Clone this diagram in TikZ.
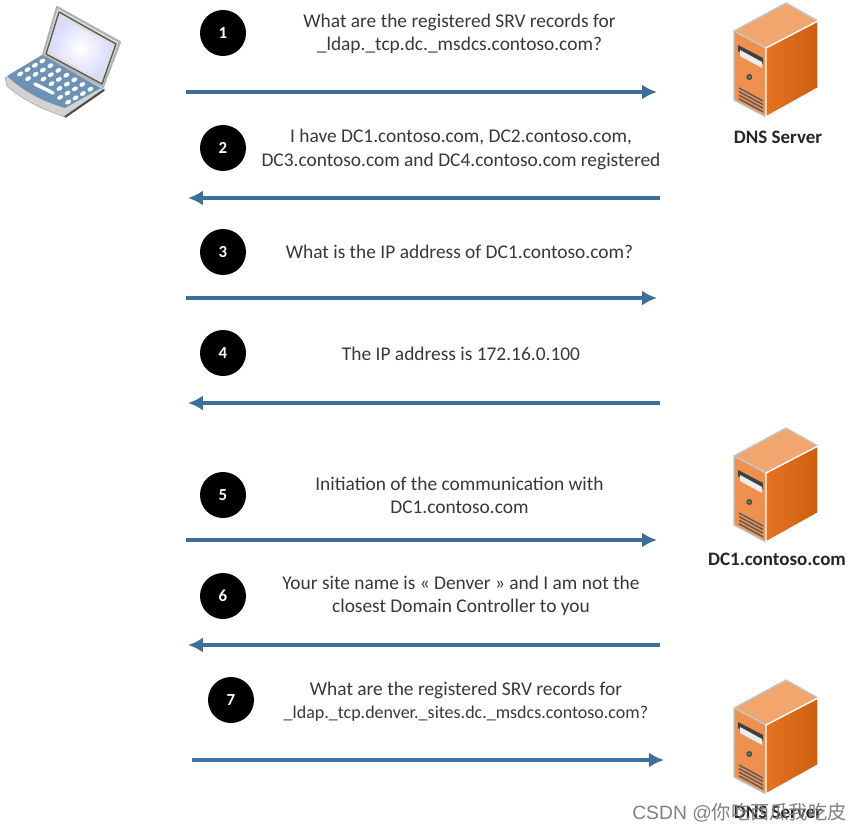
\documentclass[tikz,border=0pt]{standalone}
\usepackage{fontspec}
\setmainfont{Carlito}
\newfontfamily\cjk{Noto Sans CJK SC}
\newfontfamily\marksf{Liberation Sans}
\definecolor{arrowblue}{RGB}{62,110,155}
\definecolor{srvfront}{RGB}{238,145,80}
\definecolor{srvside}{RGB}{205,95,15}
\definecolor{srvsidelt}{RGB}{228,115,35}
\definecolor{srvtop}{RGB}{243,165,110}
\definecolor{srvedge}{RGB}{190,200,200}
\usetikzlibrary{arrows.meta}
\tikzset{
	msg/.style={font=\fontsize{13.8}{16.5}\selectfont,text=black!78,align=center},
	num/.style={circle,fill=black,text=white,minimum size=46*0.025cm,inner sep=0pt,font=\bfseries\fontsize{12}{14}\selectfont},
	lbl/.style={font=\bfseries\fontsize{13.5}{15}\selectfont,text=black!85},
	flow/.style={draw=arrowblue,line width=2.2pt,-{Latex[length=10.5pt,width=10.5pt]}},
	pics/server/.style={code={
		\draw[srvedge,line width=1pt,fill=srvtop] (0,0)--(52,-28)--(84,-10)--(32,17)--cycle;
		\draw[srvedge,line width=1pt,fill=srvfront] (0,0)--(32,17)--(32,86)--(0,69)--cycle;
		\draw[white,line width=1pt,left color=srvsidelt,right color=srvside] (32,17)--(84,-10)--(84,57)--(32,86)--cycle;
		\fill[black!75] (4,14)--(29,27)--(29,33)--(4,20)--cycle;
		\fill[white!85!gray] (6,19)--(28,31)--(28,37)--(6,25)--cycle;
		\fill[black!70] (15.3,46) circle (3);
		\fill[green!50!gray] (15.3,46) circle (1.2);
		\foreach \k in {0,1,2,3}{\draw[black!65,line width=1pt] (5,57+\k*3.6)--(29,70+\k*3.6);}
	}},
	pics/laptop/.style={code={
		% lid
		\draw[gray!60,line width=1.5pt,fill=gray!25] (43,55)--(57,7)--(120,42)--(103,87)--cycle;
		\draw[black!65,line width=1pt] (46,54)--(59,12)--(116,44)--(102,84)--cycle;
		\shade[inner color=white,outer color=blue!15] (50,52)--(60,17)--(112,45)--(99,80)--cycle;
		% base
		\draw[gray!70,fill=gray!35] (5,77)--(7,86) .. controls (25,102) and (45,110) .. (65,117)--(105,89)--cycle;
		\fill[arrowblue!75] (7,76)--(42,55)--(101,88)--(65,108) .. controls (45,102) and (25,93) .. (7,76)--cycle;
		\draw[black!70,line width=1.5pt] (65,117)--(104,90);
		% keys
		\foreach \r/\c in {0/0,0/1,0/2,0/3,0/4,0/5,0/6,1/0,1/1,1/2,1/3,1/4,1/5,1/6,2/0,2/1,2/2,2/3,2/4,2/5,2/6,3/0,3/1,3/5,3/6}{
			\fill[white,rotate around={30:(42.3+\c*8-\r*7.4,61+\c*4.7+\r*4.3)}] (42.3+\c*8-\r*7.4,61+\c*4.7+\r*4.3) ellipse (3.2 and 2.1);}
		\draw[white,line width=2.5pt,line cap=round] (35,84)--(53,93);
	}},
}
\begin{document}
\begin{tikzpicture}[x=0.025cm,y=-0.025cm,line join=round]
	\useasboundingbox (0,0) rectangle (859,833);
	\path (0,0) pic {laptop};
	\path (734,31) pic {server} (734,456) pic {server} (734,708) pic {server};
	\foreach \n/\x/\y in {1/223/33,2/223/148,3/223/252,4/223/353,5/223/495,6/223/596,7/231/700}{
		\node[num] (n\n) at (\x,\y) {\n};}
	\node[msg] (m1) at (459.5,34) {What are the registered SRV records for\\\_ldap.\_tcp.dc.\_msdcs.contoso.com?};
	\node[msg] (m2) at (461,149.5) {I have DC1.contoso.com, DC2.contoso.com,\\DC3.contoso.com and DC4.contoso.com registered};
	\node[msg] (m3) at (459.5,252) {What is the IP address of DC1.contoso.com?};
	\node[msg] (m4) at (461,354) {The IP address is 172.16.0.100};
	\node[msg] (m5) at (459.5,495) {Initiation of the communication with\\DC1.contoso.com};
	\node[msg] (m6) at (461,596) {Your site name is « Denver » and I am not the\\closest Domain Controller to you};
	\node[msg] (m7) at (466,701.5) {What are the registered SRV records for\\{\fontsize{12.8}{16.5}\selectfont\_ldap.\_tcp.denver.\_sites.dc.\_msdcs.contoso.com?}};
	% flow arrows
	\foreach \i/\a/\b/\y in {1/186/657/92,2/660/188/198,3/186/657/298,4/660/188/403,5/186/657/540,6/660/188/645,7/192/664/760}{
		\coordinate (s\i) at (\a,\y);
		\coordinate (e\i) at (\b,\y);
		\draw[flow] (s\i)--(e\i);}
	\node[lbl] (dns) at (778,137) {DNS Server};
	\node[lbl] (dc) at (777,559) {DC1.contoso.com};
	\node[lbl] (dns2) at (778,812) {DNS Server};
	\node[text=gray,font=\marksf\fontsize{13.7}{16}\selectfont] (mark) at (739.5,813) {CSDN @{\cjk 你吃西瓜我吃皮}};
\end{tikzpicture}
\end{document}
